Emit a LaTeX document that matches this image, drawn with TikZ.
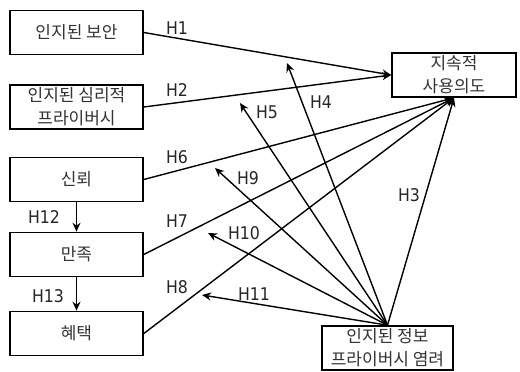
\documentclass[tikz,border=0pt]{standalone}
\usepackage{fontspec}
\setmainfont{Noto Sans CJK KR}
\newfontfamily\hfont{DejaVu Sans Condensed}
\usetikzlibrary{arrows.meta}

\begin{document}
\begin{tikzpicture}[x=1pt, y=-1pt]
  \tikzstyle{factor}=[draw, line width=1.6pt, minimum width=133pt, minimum height=44pt, inner sep=0pt, align=center, font=\fontsize{17}{23}\selectfont, text=black!80]
  \tikzstyle{hyp}=[font=\hfont\fontsize{17.5}{17.5}\selectfont, text=black!85]
  \tikzstyle{link}=[line width=1.4pt, -{Stealth[length=9pt, width=8pt]}]
  \useasboundingbox (0, 0) rectangle (520, 372);

  \node[factor] (sec) at (76.5, 32.5) {인지된 보안};
  \node[factor] (psy) at (76.5, 107) {인지된 심리적\\프라이버시};
  \node[factor] (tru) at (76.5, 179.5) {신뢰};
  \node[factor] (sat) at (76.5, 254.5) {만족};
  \node[factor] (ben) at (76.5, 333.5) {혜택};
  \node[factor, minimum width=124pt] (int) at (454, 75) {지속적\\사용의도};
  \node[factor, minimum width=131pt] (con) at (387.5, 348) {인지된 정보\\프라이버시 염려};

  \draw[link] (sec.east) -- (int.west);
  \node[hyp] (h1) at (177, 28) {H1};
  \draw[link] (psy.east) -- (int.west);
  \node[hyp] (h2) at (177, 90) {H2};
  \draw[link] (tru.east) -- (int.south);
  \node[hyp] (h6) at (177, 157) {H6};
  \draw[link] (sat.east) -- (int.south);
  \node[hyp] (h7) at (177, 221) {H7};
  \draw[link] (ben.east) -- (int.south);
  \node[hyp] (h8) at (177, 287) {H8};
  \draw[link] (con.north) -- (int.south);
  \node[hyp] (h3) at (409, 195) {H3};

  \draw[link] (tru.south) -- (sat.north);
  \node[hyp] (h12) at (44, 217) {H12};
  \draw[link] (sat.south) -- (ben.north);
  \node[hyp] (h13) at (48, 296) {H13};

  \coordinate (e4) at (287, 63);
  \coordinate (e5) at (240, 103);
  \coordinate (e9) at (215, 168);
  \coordinate (e10) at (208, 233);
  \coordinate (e11) at (202, 295);
  \draw[link] (con.north) -- (e4);
  \node[hyp] (h4) at (321, 102) {H4};
  \draw[link] (con.north) -- (e5);
  \node[hyp] (h5) at (267, 112) {H5};
  \draw[link] (con.north) -- (e9);
  \node[hyp] (h9) at (248, 178) {H9};
  \draw[link] (con.north) -- (e10);
  \node[hyp] (h10) at (244, 233) {H10};
  \draw[link] (con.north) -- (e11);
  \node[hyp] (h11) at (254, 294) {H11};
\end{tikzpicture}
\end{document}
